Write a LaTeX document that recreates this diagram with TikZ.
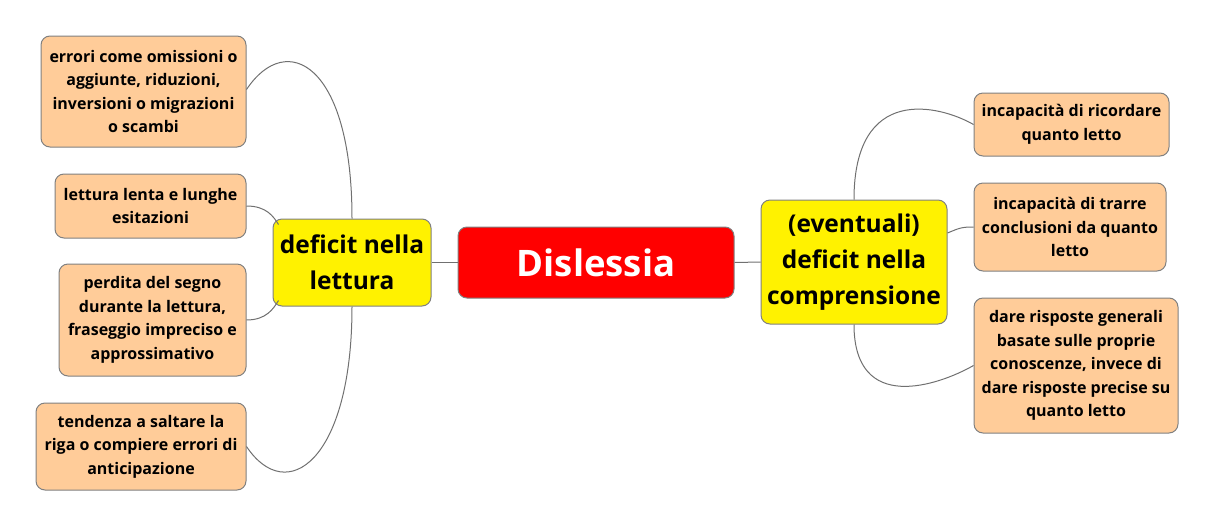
\documentclass[tikz,border=0pt]{standalone}
\usepackage{fontspec}
\setmainfont{Open Sans}
\usetikzlibrary{calc}
\definecolor{peach}{HTML}{FFCC99}
\definecolor{bordergray}{HTML}{808080}
\definecolor{linkgray}{HTML}{707070}
\tikzset{
  box/.style={draw=bordergray, line width=1pt, rounded corners=9pt, align=center, inner sep=0pt, font=\bfseries},
  leaf/.style={box, fill=peach, font=\bfseries\fontsize{16}{23.6}\selectfont},
  mid/.style={box, fill=yellow, font=\bfseries\fontsize{24.5}{36}\selectfont},
  root/.style={box, fill=red, text=white, font=\bfseries\fontsize{36.5}{40}\selectfont},
  link/.style={draw=linkgray, line width=1pt}
}
\begin{document}
\begin{tikzpicture}[x=1pt,y=-1pt]
\useasboundingbox (0,0) rectangle (1216,528);
% root
\node[root, minimum width=276pt, minimum height=71pt] (root) at (596,262.5) {Dislessia};
% mid nodes
\node[mid, minimum width=158pt, minimum height=87pt] (lett) at (352,262.5) {deficit nella\\lettura};
\node[mid, minimum width=186pt, minimum height=124pt] (comp) at (854,262) {(eventuali)\\deficit nella\\comprensione};
% left leaves
\node[leaf, minimum width=205pt, minimum height=111pt] (l1) at (143.5,91.5) {errori come omissioni o\\aggiunte, riduzioni,\\inversioni o migrazioni\\o scambi};
\node[leaf, minimum width=191pt, minimum height=64pt] (l2) at (150.5,206) {lettura lenta e lunghe\\esitazioni};
\node[leaf, minimum width=187pt, minimum height=112pt] (l3) at (152.5,320) {perdita del segno\\durante la lettura,\\fraseggio impreciso e\\approssimativo};
\node[leaf, minimum width=210pt, minimum height=87pt] (l4) at (141,446.5) {tendenza a saltare la\\riga o compiere errori di\\anticipazione};
% right leaves
\node[leaf, minimum width=195pt, minimum height=63pt] (r1) at (1071.5,124.5) {incapacità di ricordare\\quanto letto};
\node[leaf, minimum width=192pt, minimum height=88pt] (r2) at (1070,227) {incapacità di trarre\\conclusioni da quanto\\letto};
\node[leaf, minimum width=204pt, minimum height=135pt] (r3) at (1076,365.5) {dare risposte generali\\basate sulle proprie\\conoscenze, invece di\\dare risposte precise su\\quanto letto};
% connectors
\draw[link] (root.west) -- (lett.east);
\draw[link] (root.east) -- (comp.west);
\draw[link] (lett.north) .. controls +(0,-155) and +(40,-60) .. ($(l1.east)+(0,-2)$);
\draw[link] (l2.east) .. controls +(20,0) and +(-5,-8) .. ($(lett.north west)+(6,6)$);
\draw[link] (l3.east) .. controls +(20,0) and +(-5,8) .. ($(lett.south west)+(6,-6)$);
\draw[link] (lett.south) .. controls +(0,155) and +(40,60) .. (l4.east);
\draw[link] (comp.north) .. controls +(0,-115) and +(-35,-20) .. (r1.west);
\draw[link] ($(comp.east)+(0,-29)$) .. controls +(12,-5) and +(-12,0) .. (r2.west);
\draw[link] (comp.south) .. controls +(0,90) and +(-35,20) .. (r3.west);
\end{tikzpicture}
\end{document}
